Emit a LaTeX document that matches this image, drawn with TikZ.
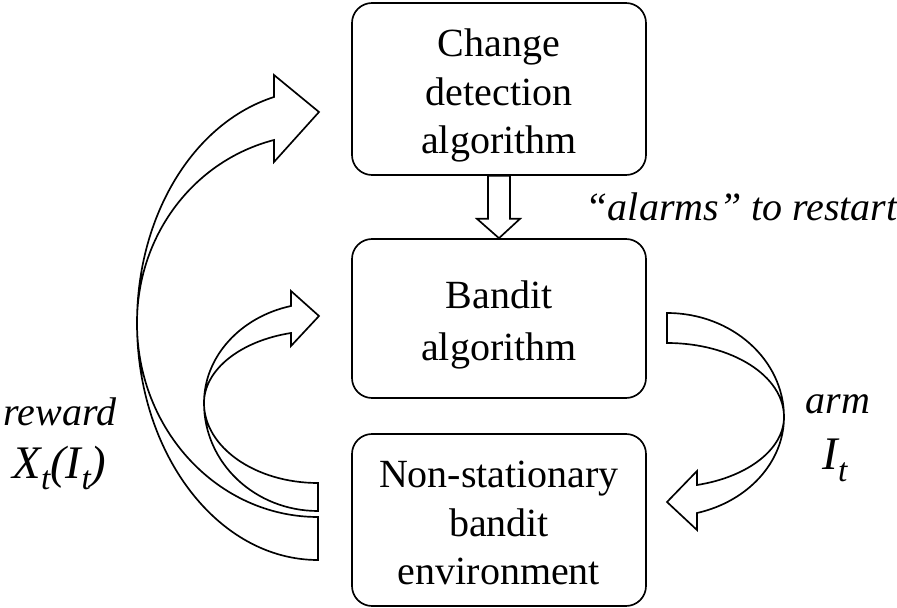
\documentclass[tikz,border=0pt]{standalone}
\usepackage{fontspec}
\setmainfont{Liberation Serif}
\usetikzlibrary{calc}
\newcommand{\lstrut}{\rule[-2.6pt]{0pt}{14.8pt}}
\newcommand{\lowsub}[1]{\raisebox{-3.4pt}{\fontsize{10}{10}\selectfont #1}}
\tikzset{
	stagebox/.style ={rectangle, rounded corners=6pt, draw=black, line width=0.5pt, minimum width=88.2pt, align=center, font=\fontsize{12}{14.5}\selectfont},
	lbl/.style      ={anchor=base west, inner sep=0pt, font=\fontsize{12}{14.5}\selectfont\itshape},
	biglbl/.style   ={anchor=base west, inner sep=0pt, font=\fontsize{14}{16}\selectfont\itshape},
	hollow/.style   ={draw=black, fill=white, line width=0.5pt, line join=miter},
}
\begin{document}
\begin{tikzpicture}[x=0.3pt, y=-0.3pt]
	\useasboundingbox (0,0) rectangle (897,608);
	\node[stagebox, minimum height=51.6pt] (cd) at (499,89) {\lstrut Change\\detection\\algorithm\lstrut};
	\node[stagebox, minimum height=47.7pt] (ba) at (499,318.5) {\lstrut Bandit\\algorithm\lstrut};
	\node[stagebox, minimum height=51.6pt] (env) at (499,520) {\lstrut Non-stationary\\bandit\\environment\lstrut};
	\filldraw[hollow] ($(cd.south)+(-11,0)$) -- ($(cd.south)+(-11,43)$) -- ($(cd.south)+(-22,43)$) -- (ba.north)
		-- ($(cd.south)+(21,43)$) -- ($(cd.south)+(11,43)$) -- ($(cd.south)+(11,0)$) -- cycle;
	\node[lbl] (alarm) at (585,220) {“alarms” to restart};
	\filldraw[hollow] (318,560) .. controls (218,560) and (137,454) .. (137,323)
		.. controls (137,216) and (193,123) .. (274,97) -- (274,75) -- (319,112) -- (274,162) -- (274,140)
		.. controls (193,161) and (137,236) .. (137,323)
		.. controls (137,430) and (218,517) .. (318,517) -- cycle;
	\filldraw[hollow] (318,511) .. controls (255,511) and (204,463) .. (204,403)
		.. controls (204,357) and (240,317) .. (291,306) -- (291,291) -- (319,316) -- (291,346) -- (291,333)
		.. controls (240,341) and (204,370) .. (204,403)
		.. controls (204,447) and (255,483) .. (318,483) -- cycle;
	\filldraw[hollow] (667,313) .. controls (732,313) and (784,360) .. (784,417)
		.. controls (784,462) and (748,501.5) .. (697,513) -- (697,530) -- (667,502) -- (697,471) -- (697,485)
		.. controls (748,477) and (784,449) .. (784,417)
		.. controls (784,376) and (732,343) .. (667,343) -- cycle;
	\node[lbl] (rew) at (3,425) {reward};
	\node[biglbl] (rewx) at (12,478) {X\lowsub{t}(I\lowsub{t})};
	\node[lbl] (arm) at (805,413) {arm};
	\node[biglbl] (armi) at (822,470) {I\lowsub{t}};
\end{tikzpicture}
\end{document}
